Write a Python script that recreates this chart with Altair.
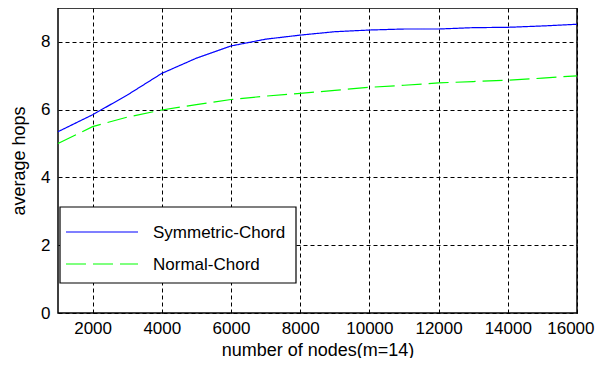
import altair as alt
import pandas as pd

nodes = [1000, 2000, 3000, 4000, 5000, 6000, 7000, 8000, 9000, 10000,
         11000, 12000, 13000, 14000, 15000, 16000]
symmetric = [5.35, 5.85, 6.43, 7.07, 7.52, 7.88, 8.08, 8.2, 8.3, 8.35,
             8.38, 8.38, 8.42, 8.43, 8.47, 8.52]
normal = [5.0, 5.5, 5.78, 5.99, 6.15, 6.3, 6.4, 6.48, 6.57, 6.66,
          6.72, 6.79, 6.83, 6.87, 6.93, 7.0]
series = ["Symmetric-Chord", "Normal-Chord"]
colors = ["#0000ff", "#00ff00"]
dashes = [[1, 0], [20, 7]]
x_ticks = [2000, 4000, 6000, 8000, 10000, 12000, 14000, 16000]
y_ticks = [0, 2, 4, 6, 8]

rows = []
for i, n in enumerate(nodes):
    rows.append({"nodes": n, "hops": symmetric[i], "series": series[0]})
    rows.append({"nodes": n, "hops": normal[i], "series": series[1]})
df = pd.DataFrame(rows)

font = "Liberation Sans"

lines = alt.Chart(df).mark_line(strokeWidth=1.2).encode(
    x=alt.X("nodes:Q", scale=alt.Scale(domain=[1000, 16000], nice=False, zero=False),
            axis=alt.Axis(values=x_ticks, title="number of nodes(m=14)", format="d",
                          grid=True, gridColor="black", gridDash=[4, 3], gridOpacity=1,
                          ticks=False, domain=False, labelPadding=7, titlePadding=5,
                          labelFlush=True, labelFlushOffset=17)),
    y=alt.Y("hops:Q", scale=alt.Scale(domain=[0, 9], nice=False),
            axis=alt.Axis(values=y_ticks, title="average hops",
                          grid=True, gridColor="black", gridDash=[4, 3], gridOpacity=1,
                          ticks=False, domain=False, labelPadding=8, titlePadding=12)),
    color=alt.Color("series:N", scale=alt.Scale(domain=series, range=colors), legend=None),
    strokeDash=alt.StrokeDash("series:N", scale=alt.Scale(domain=series, range=dashes),
                              legend=None),
)

# manual legend box (MATLAB style)
leg_df = pd.DataFrame({"label": ["legend"]})
box = alt.Chart(leg_df).mark_rect(fill="white", stroke="black", strokeWidth=1.2).encode(
    x=alt.value(2), x2=alt.value(238), y=alt.value(199), y2=alt.value(275))

layers = [lines, box]
row_y = [224, 256]
for i, name in enumerate(series):
    d = pd.DataFrame({"label": [name]})
    layers.append(alt.Chart(d).mark_rule(color=colors[i], strokeWidth=1.2,
                                         strokeDash=dashes[i]).encode(
        x=alt.value(8), x2=alt.value(80), y=alt.value(row_y[i])))
    layers.append(alt.Chart(d).mark_text(align="left", baseline="middle", font=font,
                                         fontSize=17, color="black").encode(
        x=alt.value(95), y=alt.value(row_y[i] + 1), text="label:N"))

chart = alt.layer(*layers).properties(
    width=519, height=305,
    autosize=alt.AutoSizeParams(type="none"),
    padding={"left": 50, "top": 0, "right": 18, "bottom": 45},
).configure_view(
    stroke="black", strokeWidth=1.5
).configure_axis(
    labelFont=font, titleFont=font, labelFontSize=17, titleFontSize=18,
    labelColor="black", titleColor="black", titleFontWeight="normal"
)

chart.save("out.html", embed_options={"renderer": "svg", "actions": False})
